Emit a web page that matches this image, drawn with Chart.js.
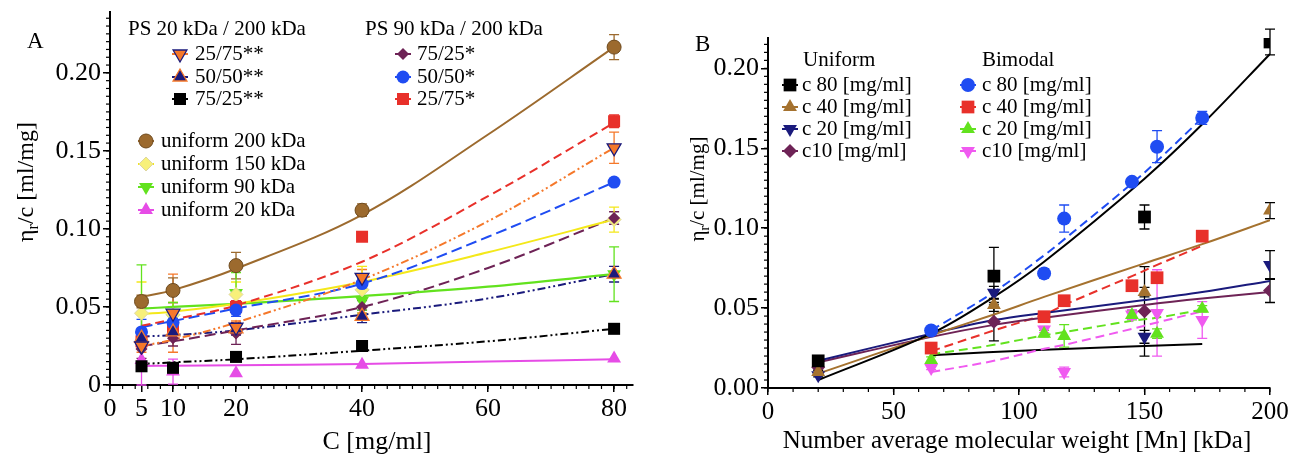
<!DOCTYPE html>
<html><head><meta charset="utf-8">
<script src="https://cdn.jsdelivr.net/npm/chart.js"></script>
<style>
html,body{margin:0;padding:0;background:#fff;overflow:hidden;}
#wrap{position:relative;width:1290px;height:457px;}
.pane{position:absolute;top:0;height:457px;width:645px;}
#pa{left:0;} #pb{left:645px;}
</style></head><body>
<div id="wrap"><div class="pane" id="pa"><canvas id="ca"></canvas></div><div class="pane" id="pb"><canvas id="cb"></canvas></div></div>
<script>
// ---------- Panel A data ----------
const concA = [5, 10, 20, 40, 80];
const xTicksA = [0, 5, 10, 20, 40, 60, 80];
const xTickLabelsA = ['0', '5', '10', '20', '40', '60', '80'];
const yTicksA = [0, 0.05, 0.10, 0.15, 0.20];
const yTickLabelsA = ['0', '0.05', '0.10', '0.15', '0.20'];

const ps20_2575 = [0.025, 0.046, 0.037, 0.069, 0.152];
const ps20_2575Err = [0.004, 0.025, 0.004, 0.005, 0.010];
const ps20_5050 = [0.030, 0.034, 0.036, 0.044, 0.071];
const ps20_5050Err = [0.004, 0.004, 0.004, 0.004, 0.005];
const ps20_7525 = [0.012, 0.011, 0.018, 0.025, 0.036];
const ps20_7525Err = [0.002, 0.002, 0.002, 0.002, 0.002];
const ps90_7525 = [0.023, 0.030, 0.033, 0.050, 0.107];
const ps90_7525Err = [0.006, 0.005, 0.007, 0.004, 0.004];
const ps90_5050 = [0.034, 0.040, 0.048, 0.065, 0.130];
const ps90_5050Err = [0.008, 0.004, 0.004, 0.003, 0.002];
const ps90_2575 = [0.028, 0.036, 0.050, 0.095, 0.169];
const ps90_2575Err = [0.004, 0.004, 0.004, 0.002, 0.004];
const uni200 = [0.0535, 0.0606, 0.0765, 0.112, 0.2165];
const uni200Err = [0.004, 0.008, 0.0085, 0.004, 0.008];
const uni150 = [0.046, 0.045, 0.058, 0.061, 0.106];
const uni150Err = [0.020, 0.008, 0.008, 0.015, 0.008];
const uni90 = [0.053, 0.043, 0.059, 0.054, 0.071];
const uni90Err = [0.024, 0.010, 0.013, 0.006, 0.0175];
const uni20 = [0.016, 0.0086, 0.0075, 0.013, 0.017];
const uni20Err = [0.016, 0.008, 0, 0, 0];

// fitted curves at these concentrations
const fitConcA = [5, 10, 20, 40, 60, 80];
const fitPs20_2575 = [0.025, 0.029, 0.040, 0.0675, 0.105, 0.152];
const fitPs20_5050 = [0.031, 0.032, 0.035, 0.045, 0.0555, 0.071];
const fitPs20_7525 = [0.0135, 0.0145, 0.0165, 0.022, 0.028, 0.036];
const fitPs90_7525 = [0.025, 0.028, 0.035, 0.050, 0.075, 0.107];
const fitPs90_5050 = [0.037, 0.041, 0.049, 0.065, 0.095, 0.130];
const fitPs90_2575 = [0.038, 0.042, 0.051, 0.079, 0.121, 0.168];
const fitUni200 = [0.0565, 0.0608, 0.0745, 0.109, 0.1605, 0.2165];
const fitUni150 = [0.0455, 0.047, 0.052, 0.066, 0.085, 0.106];
const fitUni90 = [0.049, 0.050, 0.052, 0.057, 0.063, 0.071];
const fitUni20 = [0.0122, 0.0124, 0.0127, 0.0135, 0.015, 0.0165];

// ---------- Panel B data ----------
const xTicksB = [0, 50, 100, 150, 200];
const xTickLabelsB = ['0', '50', '100', '150', '200'];
const yTicksB = [0, 0.05, 0.10, 0.15, 0.20];
const yTickLabelsB = ['0.00', '0.05', '0.10', '0.15', '0.20'];

const mnUni = [20, 90, 150, 200];
const uniC80 = [0.017, 0.070, 0.107, 0.2165];
const uniC80Err = [0.002, 0.018, 0.0075, 0.008];
const uniC40 = [0.010, 0.052, 0.060, 0.111];
const uniC40Err = [0.002, 0.004, 0.003, 0.005];
const uniC20 = [0.008, 0.0596, 0.032, 0.077];
const uniC20Err = [0.001, 0.004, 0.004, 0.009];
const uniC10 = [0.013, 0.0415, 0.048, 0.061];
const uniC10Err = [0.002, 0.012, 0.028, 0.0075];

const mnBi = [65, 110, 118, 145, 155, 173];
const biC80 = [0.036, 0.0717, 0.106, 0.129, 0.151, 0.169];
const biC80Err = [0.002, 0.003, 0.0085, 0.002, 0.010, 0.004];
const biC40 = [0.025, 0.0446, 0.0546, 0.064, 0.069, 0.095];
const biC40Err = [0.001, 0.001, 0.001, 0.001, 0.001, 0.001];
const biC20 = [0.0175, 0.034, 0.0326, 0.0456, 0.034, 0.0496];
const biC20Err = [0.002, 0.002, 0.007, 0.003, 0.003, 0.002];
const biC10 = [0.0125, 0.0366, 0.010, 0.046, 0.047, 0.0425];
const biC10Err = [0.001, 0.002, 0.003, 0.003, 0.027, 0.0115];

const fitMnUni = [20, 65, 90, 110, 150, 173, 200];
const fitUniC80 = [0.005, 0.034, 0.057, 0.079, 0.131, 0.165, 0.209];
const fitUniC40 = [0.009, 0.033, 0.046, 0.057, 0.078, 0.090, 0.105];
const fitUniC20 = [0.017, 0.034, 0.0425, 0.047, 0.055, 0.060, 0.067];
const fitUniC10 = [0.016, 0.032, 0.0395, 0.044, 0.052, 0.056, 0.060];
const fitMnBi = [65, 90, 110, 118, 145, 155, 173];
const fitBiC80 = [0.036, 0.060, 0.083, 0.093, 0.128, 0.142, 0.169];
const fitBiC40 = [0.023, 0.036, 0.046, 0.052, 0.070, 0.077, 0.089];
const fitBiC20 = [0.021, 0.027, 0.033, 0.035, 0.042, 0.044, 0.049];
const fitBiC10 = [0.010, 0.017, 0.0245, 0.027, 0.037, 0.041, 0.048];
const fitMnExtra = [65, 110, 173];
const fitExtra = [0.0205, 0.024, 0.0275];

// ---------- styles ----------
const COL = {
  brown: '#9c6a2e', brownDark: '#6e4a1e', yellow: '#f4e81a', yellowPt: '#f7f07a',
  green: '#62e21e', magenta: '#e64ce6', red: '#e8302a', blue: '#1f4cf2',
  maroon: '#6e2356', orange: '#f5782a', navy: '#1a1a7c', black: '#000000',
  brownB: '#a5722f', magB: '#f05af0'
};
const FONT = '"Liberation Serif", "Times New Roman", serif';
const DDD = [8, 3, 2, 3, 2, 3];

function pts(xs, ys) { return xs.map((x, i) => ({ x: x, y: ys[i] })); }
function mk(key, label, xs, ys, errs, st) {
  return Object.assign({ key: key, label: label, data: pts(xs, ys), errs: errs, showLine: false }, st);
}
function fit(xs, ys, color, dash, w) {
  return { data: pts(xs, ys), showLine: true, pointRadius: 0, pointHoverRadius: 0, borderColor: color,
    borderWidth: w || 2, borderDash: dash || [], tension: 0.35, fill: false };
}
function st(style, radius, fillC, borderC, bw, rot, errC, stub) {
  return { pointStyle: style, pointRadius: radius, pointHoverRadius: radius, pointBackgroundColor: fillC,
    pointBorderColor: borderC, pointBorderWidth: bw, pointRotation: rot || 0, errColor: errC, stub: stub,
    borderColor: fillC, backgroundColor: fillC };
}

function drawMarker(ctx, d, x, y) {
  const r = d.pointRadius;
  ctx.save();
  ctx.fillStyle = d.pointBackgroundColor; ctx.strokeStyle = d.pointBorderColor; ctx.lineWidth = d.pointBorderWidth || 0;
  ctx.beginPath();
  const s = d.pointStyle;
  if (s === 'circle') ctx.arc(x, y, r, 0, 2 * Math.PI);
  else if (s === 'rect') { const h = r * Math.SQRT1_2; ctx.rect(x - h, y - h, 2 * h, 2 * h); }
  else if (s === 'rectRot') { ctx.moveTo(x, y - r); ctx.lineTo(x + r, y); ctx.lineTo(x, y + r); ctx.lineTo(x - r, y); ctx.closePath(); }
  else if (s === 'triangle') {
    const k = d.pointRotation === 180 ? -1 : 1;
    ctx.moveTo(x, y - k * r); ctx.lineTo(x + r * 0.866, y + k * r * 0.5); ctx.lineTo(x - r * 0.866, y + k * r * 0.5); ctx.closePath();
  }
  ctx.fill(); if (d.pointBorderWidth > 0) ctx.stroke();
  ctx.restore();
}

function yTitle(ctx, cx, cy, size) {
  ctx.save(); ctx.translate(cx, cy); ctx.rotate(-Math.PI / 2);
  const f1 = size + 'px ' + FONT, f2 = Math.round(size * 0.68) + 'px ' + FONT;
  ctx.font = f1; const w1 = ctx.measureText('η').width; const w3 = ctx.measureText('/c [ml/mg]').width;
  ctx.font = f2; const w2 = ctx.measureText('r').width;
  let x = -(w1 + w2 + w3) / 2; const base = size * 0.33;
  ctx.fillStyle = '#000'; ctx.textBaseline = 'alphabetic'; ctx.textAlign = 'left';
  ctx.font = f1; ctx.fillText('η', x, base); x += w1;
  ctx.font = f2; ctx.fillText('r', x, base + size * 0.22); x += w2;
  ctx.font = f1; ctx.fillText('/c [ml/mg]', x, base);
  ctx.restore();
}

const annot = {
  id: 'annot',
  beforeDatasetsDraw(chart) {
    const ctx = chart.ctx, xs = chart.scales.x, ys = chart.scales.y;
    chart.data.datasets.forEach(ds => {
      if (!ds.errs) return;
      ctx.save(); ctx.strokeStyle = ds.errColor; ctx.lineWidth = 1.3;
      ds.data.forEach((p, i) => {
        const e = ds.errs[i]; if (!e) return;
        const px = xs.getPixelForValue(p.x);
        const y1 = ys.getPixelForValue(p.y + e), y2 = ys.getPixelForValue(Math.max(0, p.y - e));
        ctx.beginPath();
        ctx.moveTo(px, y1); ctx.lineTo(px, y2);
        ctx.moveTo(px - 5, y1); ctx.lineTo(px + 5, y1);
        ctx.moveTo(px - 5, y2); ctx.lineTo(px + 5, y2);
        ctx.stroke();
      });
      ctx.restore();
    });
  },
  afterDraw(chart, args, o) {
    const ctx = chart.ctx, xs = chart.scales.x, ys = chart.scales.y, ca = chart.chartArea;
    // minor ticks
    ctx.save(); ctx.strokeStyle = '#000'; ctx.lineWidth = 1.2;
    const nx = Math.floor((xs.max - xs.min) / o.minorX + 1e-6);
    for (let k = 0; k <= nx; k++) {
      const px = xs.getPixelForValue(xs.min + k * o.minorX);
      ctx.beginPath(); ctx.moveTo(px, ca.bottom); ctx.lineTo(px, ca.bottom + 4); ctx.stroke();
    }
    const ny = Math.floor((ys.max - ys.min) / o.minorY + 1e-6);
    for (let k = 0; k <= ny; k++) {
      const py = ys.getPixelForValue(ys.min + k * o.minorY);
      ctx.beginPath(); ctx.moveTo(ca.left - 4, py); ctx.lineTo(ca.left, py); ctx.stroke();
    }
    ctx.restore();
    // texts
    ctx.save(); ctx.fillStyle = '#000'; ctx.textBaseline = 'middle';
    ctx.font = o.panelFont + 'px ' + FONT; ctx.textAlign = 'left';
    ctx.fillText(o.panel, o.panelX, o.panelY);
    ctx.font = o.xTitleFont + 'px ' + FONT; ctx.textAlign = 'center';
    ctx.fillText(o.xTitle, o.xTitleX, o.xTitleY);
    ctx.restore();
    yTitle(ctx, o.yTitleX, o.yTitleY, o.yTitleFont);
    // legend
    ctx.save(); ctx.fillStyle = '#000'; ctx.textBaseline = 'middle'; ctx.textAlign = 'left';
    ctx.font = o.legFont + 'px ' + FONT;
    o.headers.forEach(h => ctx.fillText(h.t, h.x, h.y));
    o.groups.forEach(g => {
      g.keys.forEach((key, i) => {
        const ds = chart.data.datasets.find(d => d.key === key);
        const y = g.ys[i];
        ctx.save(); ctx.strokeStyle = ds.stub; ctx.lineWidth = 2;
        ctx.beginPath(); ctx.moveTo(g.mx - 8, y); ctx.lineTo(g.mx + 8, y); ctx.stroke(); ctx.restore();
        drawMarker(ctx, ds, g.mx, y);
        ctx.fillStyle = '#000'; ctx.fillText(ds.label, g.tx, y);
      });
    });
    ctx.restore();
  }
};

function axes(xTicks, xLabels, yTicks, yLabels, xmax, ymax, yw, xh, tickFont) {
  const common = {
    type: 'linear', min: 0,
    border: { color: '#000', width: 2 },
    grid: { display: true, drawOnChartArea: false, drawTicks: true, tickLength: 7, color: '#000', lineWidth: 1.5 },
  };
  return {
    x: Object.assign({}, common, {
      max: xmax,
      ticks: { font: { family: FONT, size: tickFont }, color: '#000', padding: 2, maxRotation: 0, autoSkip: false,
        callback: v => { const i = xTicks.indexOf(v); return i >= 0 ? xLabels[i] : ''; } },
      afterBuildTicks: s => { s.ticks = xTicks.map(v => ({ value: v })); },
      afterFit: s => { s.height = xh; s.paddingLeft = 0; s.paddingRight = 0; }
    }),
    y: Object.assign({}, common, {
      max: ymax,
      ticks: { font: { family: FONT, size: 26 }, color: '#000', padding: 2, autoSkip: false,
        callback: v => { const i = yTicks.findIndex(t => Math.abs(t - v) < 1e-9); return i >= 0 ? yLabels[i] : ''; } },
      afterBuildTicks: s => { s.ticks = yTicks.map(v => ({ value: v })); },
      afterFit: s => { s.width = yw; s.paddingTop = 0; s.paddingBottom = 0; }
    })
  };
}

// ---------- Chart A ----------
const dsA = [
  mk('p20a', '25/75**', concA, ps20_2575, ps20_2575Err, st('triangle', 8, COL.orange, COL.navy, 1.3, 180, COL.orange, COL.orange)),
  mk('p20b', '50/50**', concA, ps20_5050, ps20_5050Err, st('triangle', 8, COL.navy, COL.orange, 1.3, 0, COL.navy, COL.navy)),
  mk('p20c', '75/25**', concA, ps20_7525, ps20_7525Err, st('rect', 8.5, COL.black, COL.black, 0, 0, COL.black, COL.black)),
  mk('p90a', '75/25*', concA, ps90_7525, ps90_7525Err, st('rectRot', 6, COL.maroon, COL.maroon, 0, 0, COL.maroon, COL.maroon)),
  mk('p90b', '50/50*', concA, ps90_5050, ps90_5050Err, st('circle', 6.5, COL.blue, COL.blue, 0, 0, COL.blue, COL.blue)),
  mk('p90c', '25/75*', concA, ps90_2575, ps90_2575Err, st('rect', 8.5, COL.red, COL.red, 0, 0, COL.red, COL.red)),
  mk('u200', 'uniform 200 kDa', concA, uni200, uni200Err, st('circle', 7, COL.brown, COL.brownDark, 1, 0, COL.brown, COL.brown)),
  mk('u150', 'uniform 150 kDa', concA, uni150, uni150Err, st('rectRot', 7, COL.yellowPt, '#ddd6a0', 1, 0, COL.yellow, COL.yellow)),
  mk('u90', 'uniform 90 kDa', concA, uni90, uni90Err, st('triangle', 8, COL.green, COL.green, 0, 180, COL.green, COL.green)),
  mk('u20', 'uniform 20 kDa', concA, uni20, uni20Err, st('triangle', 8, COL.magenta, COL.magenta, 0, 0, COL.magenta, COL.magenta)),
  fit(fitConcA, fitUni200, COL.brown, [], 2),
  fit(fitConcA, fitPs90_2575, COL.red, [9, 5], 2),
  fit(fitConcA, fitPs20_2575, COL.orange, DDD, 2),
  fit(fitConcA, fitPs90_5050, COL.blue, [11, 5], 2),
  fit(fitConcA, fitUni150, COL.yellow, [], 2),
  fit(fitConcA, fitUni90, COL.green, [], 2.2),
  fit(fitConcA, fitPs90_7525, COL.maroon, [11, 5], 2),
  fit(fitConcA, fitPs20_5050, COL.navy, DDD, 2),
  fit(fitConcA, fitPs20_7525, COL.black, DDD, 2),
  fit(fitConcA, fitUni20, COL.magenta, [], 2)
];

new Chart(document.getElementById('ca'), {
  type: 'scatter',
  data: { datasets: dsA },
  options: {
    responsive: true, maintainAspectRatio: false, animation: false, devicePixelRatio: 1,
    layout: { padding: { left: 0, right: 12, top: 12, bottom: 0 } },
    plugins: {
      legend: { display: false }, tooltip: { enabled: false },
      annot: {
        minorX: 2, minorY: 0.005,
        panel: 'A', panelX: 27, panelY: 42, panelFont: 23,
        xTitle: 'C [mg/ml]', xTitleX: 377, xTitleY: 442, xTitleFont: 26,
        yTitleX: 25, yTitleY: 182, yTitleFont: 24,
        legFont: 21,
        headers: [{ t: 'PS 20 kDa / 200 kDa', x: 128, y: 29 }, { t: 'PS 90 kDa / 200 kDa', x: 365, y: 29 }],
        groups: [
          { mx: 180, tx: 195, keys: ['p20a', 'p20b', 'p20c'], ys: [54, 77, 99] },
          { mx: 146, tx: 161, keys: ['u200', 'u150', 'u90', 'u20'], ys: [141, 164, 187, 210] },
          { mx: 403, tx: 417, keys: ['p90a', 'p90b', 'p90c'], ys: [54, 77, 99] }
        ]
      }
    },
    scales: axes(xTicksA, xTickLabelsA, yTicksA, yTickLabelsA, 83, 0.239, 110, 72, 26)
  },
  plugins: [annot]
});

// ---------- Chart B ----------
const dsB = [
  mk('u80', 'c 80 [mg/ml]', mnUni, uniC80, uniC80Err, st('rect', 9, COL.black, COL.black, 0, 0, COL.black, COL.black)),
  mk('u40', 'c 40 [mg/ml]', mnUni, uniC40, uniC40Err, st('triangle', 8, COL.brownB, COL.brownB, 0, 0, COL.black, COL.brownB)),
  mk('u20', 'c 20 [mg/ml]', mnUni, uniC20, uniC20Err, st('triangle', 8, COL.navy, COL.navy, 0, 180, COL.black, COL.navy)),
  mk('u10', 'c10 [mg/ml]', mnUni, uniC10, uniC10Err, st('rectRot', 7, COL.maroon, COL.maroon, 0, 0, COL.black, COL.maroon)),
  mk('b80', 'c 80 [mg/ml]', mnBi, biC80, biC80Err, st('circle', 7, COL.blue, COL.blue, 0, 0, COL.blue, COL.blue)),
  mk('b40', 'c 40 [mg/ml]', mnBi, biC40, biC40Err, st('rect', 9, COL.red, COL.red, 0, 0, COL.red, COL.red)),
  mk('b20', 'c 20 [mg/ml]', mnBi, biC20, biC20Err, st('triangle', 8, COL.green, COL.green, 0, 0, COL.green, COL.green)),
  mk('b10', 'c10 [mg/ml]', mnBi, biC10, biC10Err, st('triangle', 8, COL.magB, COL.magB, 0, 180, COL.magB, COL.magB)),
  fit(fitMnUni, fitUniC80, COL.black, [], 2),
  fit(fitMnUni, fitUniC40, COL.brownB, [], 2),
  fit(fitMnUni, fitUniC20, COL.navy, [], 2),
  fit(fitMnUni, fitUniC10, COL.maroon, [], 2),
  fit(fitMnBi, fitBiC80, COL.blue, [9, 5], 2),
  fit(fitMnBi, fitBiC40, COL.red, [9, 5], 2),
  fit(fitMnBi, fitBiC20, COL.green, [9, 5], 2),
  fit(fitMnBi, fitBiC10, COL.magB, [9, 5], 2),
  fit(fitMnExtra, fitExtra, COL.black, [], 2)
];

new Chart(document.getElementById('cb'), {
  type: 'scatter',
  data: { datasets: dsB },
  options: {
    responsive: true, maintainAspectRatio: false, animation: false, devicePixelRatio: 1,
    layout: { padding: { left: 0, right: 20, top: 38, bottom: 0 } },
    plugins: {
      legend: { display: false }, tooltip: { enabled: false },
      annot: {
        minorX: 10, minorY: 0.005,
        panel: 'B', panelX: 50, panelY: 45, panelFont: 23,
        xTitle: 'Number average molecular weight [Mn] [kDa]', xTitleX: 372, xTitleY: 441, xTitleFont: 25,
        yTitleX: 52, yTitleY: 189, yTitleFont: 21,
        legFont: 21,
        headers: [{ t: 'Uniform', x: 158, y: 60 }, { t: 'Bimodal', x: 337, y: 60 }],
        groups: [
          { mx: 145, tx: 157, keys: ['u80', 'u40', 'u20', 'u10'], ys: [85, 107, 129, 151] },
          { mx: 323, tx: 337, keys: ['b80', 'b40', 'b20', 'b10'], ys: [85, 107, 129, 151] }
        ]
      }
    },
    scales: axes(xTicksB, xTickLabelsB, yTicksB, yTickLabelsB, 200, 0.219, 123, 69, 25)
  },
  plugins: [annot]
});
</script>
</body></html>
